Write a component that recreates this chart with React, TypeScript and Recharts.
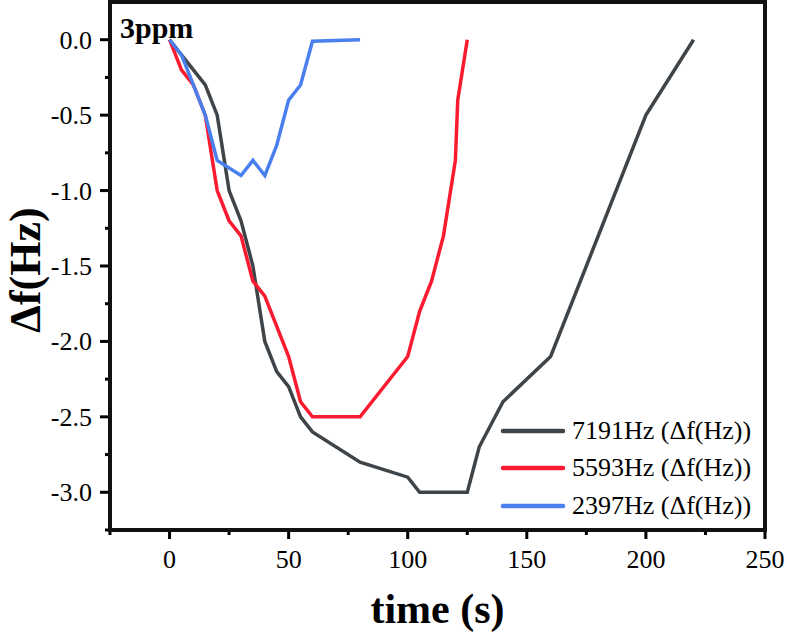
import { LineChart, Line, XAxis, YAxis, Legend, ReferenceArea } from 'recharts';

// time (s) and Δf (Hz), one pair of arrays per frequency
const t7191 = [0, 5, 15, 20, 25, 30, 35, 40, 45, 50, 55, 60, 80, 100, 105, 125, 130, 140, 160, 200, 220];
const v7191 = [0, -0.1, -0.3, -0.5, -1.0, -1.2, -1.5, -2.0, -2.2, -2.3, -2.5, -2.6, -2.8, -2.9, -3.0, -3.0, -2.7, -2.4, -2.1, -0.5, 0];

const t5593 = [0, 5, 10, 15, 20, 25, 30, 35, 40, 50, 55, 60, 80, 100, 105, 110, 115, 120, 121, 125];
const v5593 = [0, -0.2, -0.3, -0.5, -1.0, -1.2, -1.3, -1.6, -1.7, -2.1, -2.4, -2.5, -2.5, -2.1, -1.8, -1.6, -1.3, -0.8, -0.4, 0];

const t2397 = [0, 5, 10, 15, 20, 30, 35, 40, 45, 50, 55, 60, 80];
const v2397 = [0, -0.1, -0.3, -0.5, -0.8, -0.9, -0.8, -0.9, -0.7, -0.4, -0.3, -0.01, 0];

const xTicks = [-25, 0, 25, 50, 75, 100, 125, 150, 175, 200, 225, 250];
const xMajor = [0, 50, 100, 150, 200, 250];
const yTicks = [-3.25, -3.0, -2.75, -2.5, -2.25, -2.0, -1.75, -1.5, -1.25, -1.0, -0.75, -0.5, -0.25, 0];
const yMajor = [-3.0, -2.5, -2.0, -1.5, -1.0, -0.5, 0];

const seriesNames = ['7191Hz (\u0394f(Hz))', '5593Hz (\u0394f(Hz))', '2397Hz (\u0394f(Hz))'];
const seriesColors = ['#3f4448', '#fb1b30', '#4a80ee'];

const toRows = (ts: number[], vs: number[]) => ts.map((t, i) => ({ t, v: vs[i] }));
const series = [toRows(t7191, v7191), toRows(t5593, v5593), toRows(t2397, v2397)];

const SERIF = '"Liberation Serif", "Times New Roman", serif';

// chart box: plot area runs x 110..765, y 2..530
const W = 787;
const H = 643;
const M = { top: 2, right: 22, bottom: 0, left: 0 };
const Y_W = 110;
const X_H = 113;

function XTick({ x, y, payload }: any) {
  const major = xMajor.includes(payload.value);
  return (
    <g>
      <line x1={x} x2={x} y1={y} y2={y + (major ? 9 : 5)} stroke="#000" strokeWidth={3} />
      {major && (
        <text x={x} y={y + 38} textAnchor="middle" fontFamily={SERIF} fontSize={26} fill="#000">
          {payload.value}
        </text>
      )}
    </g>
  );
}

function YTick({ x, y, payload }: any) {
  const major = yMajor.includes(payload.value);
  return (
    <g>
      <line x1={x} x2={x - (major ? 10 : 5)} y1={y} y2={y} stroke="#000" strokeWidth={3} />
      {major && (
        <text x={x - 18} y={y} dy={9} textAnchor="end" fontFamily={SERIF} fontSize={26} fill="#000">
          {payload.value.toFixed(1)}
        </text>
      )}
    </g>
  );
}

function LegendBox({ payload }: any) {
  // keep the legend in the same order as the series were drawn
  const items = [...(payload || [])].sort(
    (a: any, b: any) => seriesNames.indexOf(a.value) - seriesNames.indexOf(b.value)
  );
  return (
    <div style={{ fontFamily: SERIF, fontSize: 26, color: '#000' }}>
      {items.map((p: any) => (
        <div key={p.value} style={{ display: 'flex', alignItems: 'center', height: 37.5 }}>
          <svg width={66} height={8}>
            <line x1={3} x2={63} y1={4} y2={4} stroke={p.color} strokeWidth={4.5} strokeLinecap="round" />
          </svg>
          <span style={{ marginLeft: 6, whiteSpace: 'nowrap' }}>{p.value}</span>
        </div>
      ))}
    </div>
  );
}

export default function App() {
  const plotW = W - M.left - M.right - Y_W;
  const plotH = H - M.top - M.bottom - X_H;
  return (
    <div style={{ position: 'absolute', left: 0, top: 0, width: W, height: H }}>
      <LineChart width={W} height={H} margin={M}>
        <XAxis
          dataKey="t"
          type="number"
          domain={[-25, 250]}
          ticks={xTicks}
          interval={0}
          height={X_H}
          axisLine={false}
          tickLine={false}
          tickSize={0}
          tickMargin={0}
          tick={<XTick />}
          label={{
            content: ({ viewBox }: any) => (
              <text
                x={viewBox.x + viewBox.width / 2}
                y={viewBox.y + 93}
                textAnchor="middle"
                fontFamily={SERIF}
                fontWeight="bold"
                fontSize={42}
                fill="#000"
              >
                time (s)
              </text>
            ),
          }}
        />
        <YAxis
          type="number"
          domain={[-3.25, 0.25]}
          ticks={yTicks}
          interval={0}
          width={Y_W}
          axisLine={false}
          tickLine={false}
          tickSize={0}
          tickMargin={0}
          tick={<YTick />}
          label={{
            content: ({ viewBox }: any) => (
              <text
                x={40}
                y={viewBox.y + viewBox.height / 2 + 4}
                transform={`rotate(-90, 40, ${viewBox.y + viewBox.height / 2 + 4})`}
                textAnchor="middle"
                fontFamily={SERIF}
                fontWeight="bold"
                fontSize={44}
                fill="#000"
              >
                {'\u0394f(Hz)'}
              </text>
            ),
          }}
        />
        {series.map((rows, i) => (
          <Line
            key={seriesNames[i]}
            data={rows}
            dataKey="v"
            name={seriesNames[i]}
            type="linear"
            stroke={seriesColors[i]}
            strokeWidth={3.5}
            dot={false}
            activeDot={false}
            isAnimationActive={false}
          />
        ))}
        <ReferenceArea
          x1={-25}
          x2={250}
          y1={-3.25}
          y2={0.25}
          fill="none"
          stroke="none"
          label={{
            content: ({ viewBox }: any) => (
              <text x={viewBox.x + 10} y={viewBox.y + 36} fontFamily={SERIF} fontWeight="bold" fontSize={30} fill="#000">
                3ppm
              </text>
            ),
          }}
        />
        <Legend
          layout="vertical"
          align="center"
          verticalAlign="middle"
          content={<LegendBox />}
          wrapperStyle={{ left: 500, top: 412, width: 280 }}
        />
      </LineChart>
      {/* thick frame around the plot area */}
      <div
        style={{
          position: 'absolute',
          left: M.left + Y_W - 2,
          top: M.top - 2,
          width: plotW + 4,
          height: plotH + 4,
          border: '4px solid #111',
          boxSizing: 'border-box',
          pointerEvents: 'none',
          zIndex: 5,
        }}
      />
    </div>
  );
}
